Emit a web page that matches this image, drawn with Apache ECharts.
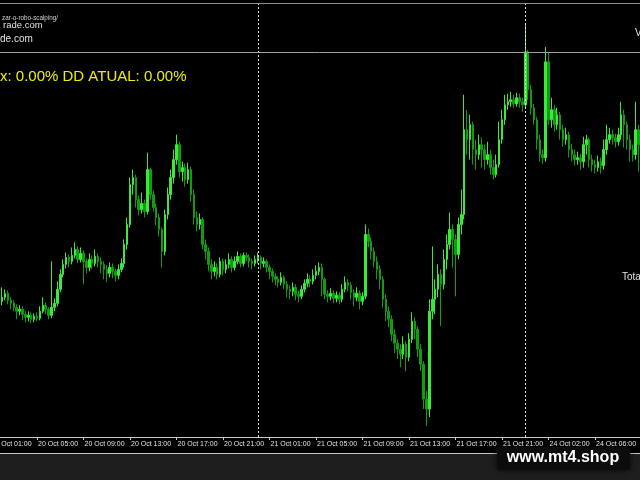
<!DOCTYPE html>
<html>
<head>
<meta charset="utf-8">
<script src="https://cdn.jsdelivr.net/npm/echarts@6/dist/echarts.min.js"></script>
<style>html,body{margin:0;padding:0;background:#000;}#c{width:640px;height:480px;}</style>
</head>
<body>
<div id="c"></div>
<script>
// M15 candles, 20 Oct 02:00 .. 24 Oct 09:45 (4 leading empty slots from 01:00)
const tickLabels = ['20 Oct 01:00','20 Oct 05:00','20 Oct 09:00','20 Oct 13:00','20 Oct 17:00','20 Oct 21:00',
  '21 Oct 01:00','21 Oct 05:00','21 Oct 09:00','21 Oct 13:00','21 Oct 17:00','21 Oct 21:00','24 Oct 02:00','24 Oct 06:00'];
const daySeparators = ['21 Oct 00:00','24 Oct 00:00'];
const levelLine = 388;

const opens = [
138,142,146,139,136,132,128,130,125,122,
124,120,123,121,128,134,130,124,132,136,
150,165,175,182,178,184,190,180,186,178,
172,180,176,183,178,175,170,166,172,168,
164,170,176,195,215,255,262,240,230,236,
228,270,245,232,222,210,188,225,245,262,
280,295,268,272,260,270,245,222,215,220,
195,188,175,168,172,165,178,170,175,180,
172,178,183,176,184,182,178,176,180,182,
176,178,172,168,163,160,157,162,155,150,
148,152,145,143,150,156,160,158,164,168,
172,160,145,143,146,141,144,140,150,157,
154,147,142,146,138,143,205,198,188,178,
170,160,140,128,120,105,96,90,85,95,
82,100,118,110,90,75,40,30,128,140,
150,165,155,180,195,210,200,185,215,225,
310,300,315,290,285,295,290,280,285,272,
265,275,300,320,335,338,340,336,342,338,
335,388,350,332,320,300,285,282,378,320,
330,315,325,310,300,305,290,285,280,282,
278,295,300,280,275,272,278,274,290,300,
305,302,298,305,325,315,300,290,285,310];
const closes = [
142,146,139,136,132,128,130,125,122,124,
120,123,121,128,134,130,124,132,136,150,
165,175,182,178,184,190,180,186,178,172,
180,176,183,178,175,170,166,172,168,164,
170,176,195,215,255,262,240,230,236,228,
270,245,232,222,210,188,225,245,262,280,
295,268,272,260,270,245,222,215,220,195,
188,175,168,172,165,178,170,175,180,172,
178,183,176,184,182,178,176,180,182,176,
178,172,168,163,160,157,162,155,150,148,
152,145,143,150,156,160,158,164,168,172,
160,145,143,146,141,144,140,150,157,154,
147,142,146,138,143,205,198,188,178,170,
160,140,128,120,105,96,90,85,95,82,
100,118,110,90,75,40,30,128,140,150,
165,155,180,195,210,200,185,215,225,310,
300,315,290,285,295,290,280,285,272,265,
275,300,320,335,338,340,336,342,338,335,
388,350,332,320,300,285,282,378,320,330,
315,325,310,300,305,290,285,280,282,278,
295,300,280,275,272,278,274,290,300,305,
302,298,305,325,315,300,290,285,310,295];
const lows = [
134,139,135,130,128,120,124,119,117,118,
116,117,118,119,126,125,120,121,128,133,
147,162,171,172,175,181,176,177,155,166,
168,170,173,172,166,160,157,162,161,158,
160,167,172,190,212,245,232,224,226,222,
225,240,228,214,203,172,184,220,240,256,
275,262,258,253,256,238,215,208,210,190,
180,168,160,163,160,162,164,166,171,167,
169,175,172,173,178,172,170,173,176,170,
172,167,160,157,154,152,154,150,142,140,
143,139,137,140,147,152,152,155,160,164,
143,140,137,139,136,137,135,137,147,148,
140,133,138,130,134,140,192,180,172,160,
150,132,118,112,98,86,80,72,80,68,
78,96,100,82,68,30,13,22,120,125,
142,113,150,170,190,172,143,180,205,220,
285,280,275,270,280,272,270,275,265,260,
262,272,296,315,330,333,332,333,332,328,
332,340,325,315,290,278,276,278,315,312,
308,310,300,293,295,282,278,274,275,270,
272,285,272,268,266,268,266,270,285,296,
295,292,294,300,292,290,278,278,280,268];
const highs = [
152,150,149,142,139,135,134,133,128,128,
127,126,127,133,142,137,132,178,141,158,
170,180,187,185,192,197,193,192,189,181,
186,184,190,186,182,178,174,177,176,171,
175,181,200,222,262,270,265,244,247,240,
287,272,249,236,226,212,230,252,270,290,
305,298,278,276,277,273,250,228,226,222,
200,192,180,178,176,182,181,180,186,183,
183,188,186,187,187,185,181,184,187,184,
182,180,175,171,166,163,167,164,158,154,
157,155,149,154,160,166,164,170,174,177,
176,162,149,151,149,148,147,155,163,160,
157,150,152,149,147,215,211,202,192,183,
174,163,145,133,124,110,100,95,103,98,
106,127,122,113,95,78,48,140,193,160,
175,170,190,205,227,215,205,222,250,345,
330,325,318,300,305,302,295,298,290,280,
285,318,330,345,346,348,345,347,346,342,
417,390,355,336,323,305,290,393,388,342,
335,332,328,315,312,308,296,290,288,286,
303,305,302,285,280,284,282,300,315,312,
310,306,312,338,330,318,305,295,338,315];

// time categories
const categories = [];
function pad(n){return (n<10?'0':'')+n;}
function addDay(day, fromMin, toMin){
  for(let t=fromMin;t<=toMin;t+=15){categories.push(day+' Oct '+pad(Math.floor(t/60))+':'+pad(t%60));}
}
addDay(20, 60, 23*60+45);
addDay(21, 0, 22*60+45);
addDay(24, 0, 9*60+45);

const lead = categories.length - opens.length;
const candleData = categories.map((c,k)=> k<lead ? ['-','-','-','-'] : [opens[k-lead], closes[k-lead], lows[k-lead], highs[k-lead]]);

const chart = echarts.init(document.getElementById('c'));
const showTick = (idx, val) => tickLabels.indexOf(val) >= 0;
chart.setOption({
  animation:false,
  backgroundColor:'#000',
  grid:{left:-10.95, width:651, top:4, bottom:43, outerBoundsMode:'none', containLabel:false},
  xAxis:{
    type:'category', data:categories, boundaryGap:true,
    axisLine:{show:true, lineStyle:{color:'#c8c8c8', width:1}},
    axisTick:{show:true, interval:showTick, alignWithLabel:true, length:3, lineStyle:{color:'#c8c8c8'}},
    axisLabel:{show:true, interval:showTick, align:'left', margin:4, color:'#e0e0e0', fontSize:7, fontFamily:'"Liberation Sans"', padding:[0,0,0,1], hideOverlap:false, showMinLabel:true, showMaxLabel:true},
    splitLine:{show:false}
  },
  yAxis:{type:'value', min:2, max:436, show:false, splitLine:{show:false}},
  series:[{
    type:'candlestick',
    data:candleData,
    barWidth:2,
    itemStyle:{color:'#3ce83c', color0:'#109e10', borderColor:'#3ce83c', borderColor0:'#109e10', borderWidth:1},
    markLine:{
      symbol:'none', silent:true, label:{show:false},
      data:[
        {xAxis:daySeparators[0], lineStyle:{color:'#e0e0e0', type:[2,2], width:1}},
        {xAxis:daySeparators[1], lineStyle:{color:'#e0e0e0', type:[2,2], width:1}},
        {yAxis:levelLine, lineStyle:{color:'#a0a0a0', type:'solid', width:1}}
      ]
    }
  }],
  graphic:[
    {type:'line', shape:{x1:0,y1:3.5,x2:640,y2:3.5}, style:{stroke:'#909090', lineWidth:1}},
    {type:'rect', shape:{x:0,y:453,width:640,height:27}, style:{fill:'#1e1e1e'}},
    {type:'line', shape:{x1:0,y1:453.5,x2:640,y2:453.5}, style:{stroke:'#c8c8c8', lineWidth:1}},
    {type:'text', style:{text:'zar-o-robo-scalping/', x:2, y:15, fill:'#d0d0d0', font:'6.3px "Liberation Sans"'}},
    {type:'text', style:{text:'rade.com', x:3, y:20, fill:'#e0e0e0', font:'9.5px "Liberation Sans"'}},
    {type:'text', style:{text:'de.com', x:0, y:34, fill:'#e0e0e0', font:'10px "Liberation Sans"'}},
    {type:'text', style:{text:'x: 0.00% DD ATUAL: 0.00%', x:0, y:69, fill:'#eeee00', font:'15px "Liberation Sans"'}},
    {type:'text', style:{text:'V', x:635, y:28, fill:'#e0e0e0', font:'10px "Liberation Sans"'}},
    {type:'text', style:{text:'Tota', x:622, y:272, fill:'#e0e0e0', font:'10px "Liberation Sans"'}},
    {type:'rect', shape:{x:497,y:447,width:133,height:23,r:3}, style:{fill:'#0c0c0c', shadowBlur:6, shadowColor:'rgba(0,0,0,0.8)'}},
    {type:'text', style:{text:'www.mt4.shop', x:563, y:458, align:'center', verticalAlign:'middle', fill:'#ffffff', font:'bold 16px "Liberation Sans"'}}
  ]
});
</script>
</body>
</html>
